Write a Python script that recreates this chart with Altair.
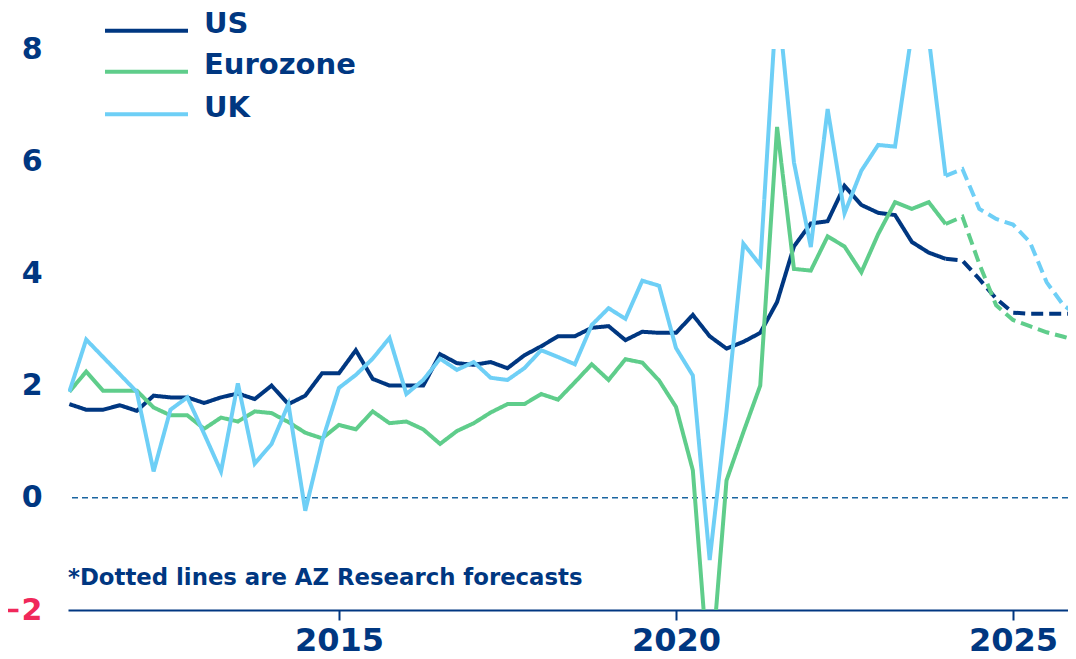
import altair as alt
import pandas as pd

# ---------------- data ----------------
start_year = 2011
n_quarters = 61
quarters = [start_year + i * 0.25 for i in range(n_quarters)]
forecast_from = 2024.0

us = [1.67, 1.57, 1.57, 1.65, 1.55, 1.82, 1.79, 1.79, 1.69, 1.79,
      1.86, 1.76, 2.00, 1.67, 1.82, 2.22, 2.22, 2.63, 2.12, 2.00,
      2.00, 2.00, 2.56, 2.40, 2.37, 2.42, 2.31, 2.54, 2.70, 2.88,
      2.88, 3.03, 3.06, 2.81, 2.96, 2.94, 2.94, 3.26, 2.88, 2.66,
      2.78, 2.94, 3.49, 4.48, 4.89, 4.93, 5.56, 5.22, 5.08, 5.04,
      4.56, 4.37, 4.26, 4.23, 3.90, 3.55, 3.30, 3.28, 3.28, 3.28,
      3.28]

eurozone = [1.89, 2.25, 1.91, 1.91, 1.91, 1.61, 1.47, 1.47, 1.23, 1.43,
            1.36, 1.54, 1.51, 1.35, 1.16, 1.06, 1.30, 1.22, 1.54, 1.33,
            1.36, 1.22, 0.96, 1.19, 1.33, 1.52, 1.67, 1.67, 1.85, 1.75,
            2.06, 2.38, 2.10, 2.47, 2.41, 2.09, 1.62, 0.49, -3.40, 0.31,
            1.17, 2.00, 6.61, 4.08, 4.05, 4.66, 4.48, 4.02, 4.70, 5.27,
            5.15, 5.27, 4.88, 5.01, 4.17, 3.43, 3.17, 3.06, 2.95, 2.87,
            2.78]

uk = [1.89, 2.82, 2.51, 2.20, 1.89, 0.47, 1.57, 1.79, 1.14, 0.47,
      2.04, 0.61, 0.96, 1.67, -0.23, 1.01, 1.96, 2.19, 2.48, 2.85,
      1.85, 2.10, 2.48, 2.28, 2.42, 2.14, 2.10, 2.31, 2.63, 2.51,
      2.38, 3.08, 3.38, 3.19, 3.87, 3.78, 2.67, 2.18, -1.11, 1.55,
      4.53, 4.15, 9.00, 5.98, 4.47, 6.93, 5.07, 5.83, 6.29, 6.26,
      8.30, 8.20, 5.74, 5.86, 5.15, 4.97, 4.87, 4.56, 3.84, 3.43,
      3.22]

series_names = ["US", "Eurozone", "UK"]
series_colors = ["#003781", "#5fcd8b", "#6ecff6"]
y_ticks = [-2, 0, 2, 4, 6, 8]
x_ticks = [2015, 2020, 2025]
note = "*Dotted lines are AZ Research forecasts"

rows = []
for name, vals in zip(series_names, [us, eurozone, uk]):
    for q, v in zip(quarters, vals):
        if q <= forecast_from:
            rows.append({"series": name, "year": q, "value": v, "part": "actual"})
        if q >= forecast_from:
            rows.append({"series": name, "year": q, "value": v, "part": "forecast"})
df = pd.DataFrame(rows)

# ---------------- style ----------------
navy = "#003781"
red = "#f0285a"
font = "DejaVu Sans"

x_enc = alt.X(
    "year:Q",
    scale=alt.Scale(domain=[2010.98, 2025.816], nice=False, zero=False),
    axis=alt.Axis(
        values=x_ticks, format="d", title=None, grid=False,
        domainColor=navy, domainWidth=2, tickColor=navy, tickWidth=2,
        tickSize=10, labelFont=font, labelFontSize=32, labelFontWeight="bold",
        labelColor=navy, labelPadding=5,
    ),
)
y_enc = alt.Y(
    "value:Q",
    scale=alt.Scale(domain=[-2, 8], nice=False, zero=False),
    axis=alt.Axis(
        values=y_ticks, format="d", title=None, grid=False, domain=False,
        ticks=False, labelFont=font, labelFontSize=30, labelFontWeight="bold",
        labelPadding=26,
        labelColor={"expr": f"datum.value < 0 ? '{red}' : '{navy}'"},
    ),
)

lines = alt.Chart(df).mark_line(clip=True, strokeWidth=4).encode(
    x=x_enc,
    y=y_enc,
    color=alt.Color(
        "series:N",
        scale=alt.Scale(domain=series_names, range=series_colors),
        legend=None,
    ),
    strokeDash=alt.StrokeDash(
        "part:N",
        scale=alt.Scale(domain=["actual", "forecast"], range=[[1, 0], [12, 6]]),
        legend=None,
    ),
)

zero_line = alt.Chart(pd.DataFrame({"value": [0]})).mark_rule(
    strokeDash=[6, 4], strokeWidth=1.5, color="#1a64a0"
).encode(y="value:Q")

note_text = alt.Chart(pd.DataFrame({"t": [note]})).mark_text(
    align="left", baseline="middle", font=font, fontSize=22.8,
    fontWeight="bold", color=navy,
).encode(x=alt.value(0), y=alt.value(529), text="t:N")

# manual legend (placed above the top-left of the plot, as in the original)
legend_layers = []
row_sym_y = [-18.3, 22.7, 65.3]
row_txt_y = [-25.5, 16.0, 58.8]
for name, col, sy, ty in zip(series_names, series_colors, row_sym_y, row_txt_y):
    one = pd.DataFrame({"series": [name]})
    legend_layers.append(
        alt.Chart(one).mark_rule(strokeWidth=4, color=col).encode(
            x=alt.value(37), x2=alt.value(120), y=alt.value(sy)
        )
    )
    legend_layers.append(
        alt.Chart(one).mark_text(
            align="left", baseline="middle", font=font, fontSize=29,
            fontWeight="bold", color=navy,
        ).encode(x=alt.value(136), y=alt.value(ty), text="series:N")
    )

chart = (
    alt.layer(zero_line, lines, note_text, *legend_layers)
    .properties(
        width=1000, height=561,
        padding={"left": 60, "top": 41, "right": 0, "bottom": 46},
        autosize=alt.AutoSizeParams(type="none"),
    )
    .configure_view(stroke=None)
)

chart.save("out.html", embed_options={"renderer": "svg", "actions": False})
